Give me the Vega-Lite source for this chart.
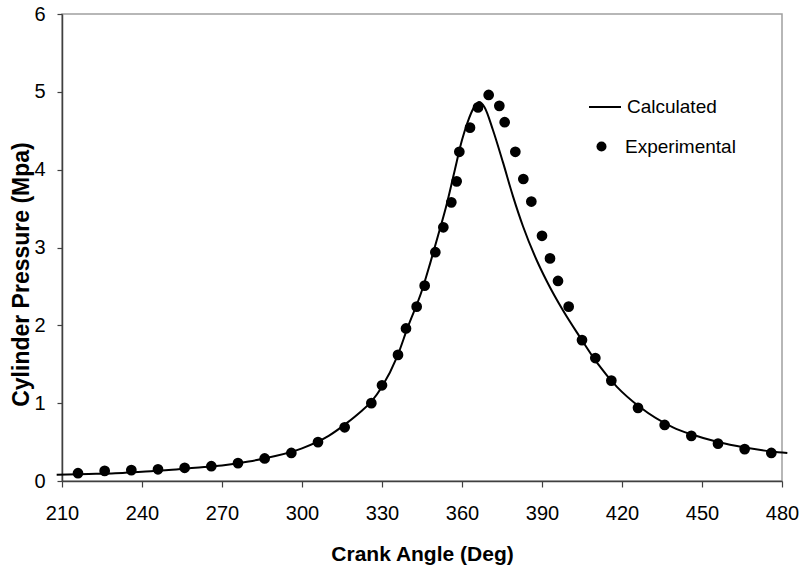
{
  "$schema": "https://vega.github.io/schema/vega-lite/v6.json",
  "width": 720,
  "height": 467,
  "autosize": {"type": "none"},
  "padding": {"left": 62, "top": 14, "right": 20, "bottom": 87},
  "background": "white",
  "config": {
    "view": {"stroke": "#a0a0a0", "strokeWidth": 1.5},
    "font": "Liberation Sans",
    "axis": {
      "grid": false,
      "labelFlush": false,
      "labelOverlap": false,
      "domainColor": "#404040",
      "domainWidth": 1.5,
      "tickColor": "#404040",
      "tickWidth": 1.2,
      "tickSize": 6,
      "labelFont": "Liberation Sans",
      "labelFontSize": 20,
      "labelColor": "black",
      "titleFont": "Liberation Sans",
      "titleFontSize": 21,
      "titleFontWeight": "bold",
      "titleColor": "black"
    },
    "legend": {
      "labelFont": "Liberation Sans",
      "labelFontSize": 19,
      "labelColor": "black",
      "padding": 0
    }
  },
  "datasets": {
    "calc": [
      {"angle": 208, "p": 0.08, "series": "Calculated"}, {"angle": 220, "p": 0.09, "series": "Calculated"},
      {"angle": 230, "p": 0.10, "series": "Calculated"}, {"angle": 240, "p": 0.12, "series": "Calculated"},
      {"angle": 250, "p": 0.14, "series": "Calculated"}, {"angle": 260, "p": 0.17, "series": "Calculated"},
      {"angle": 270, "p": 0.20, "series": "Calculated"}, {"angle": 280, "p": 0.25, "series": "Calculated"},
      {"angle": 290, "p": 0.32, "series": "Calculated"}, {"angle": 300, "p": 0.42, "series": "Calculated"},
      {"angle": 310, "p": 0.58, "series": "Calculated"}, {"angle": 317, "p": 0.75, "series": "Calculated"},
      {"angle": 322, "p": 0.89, "series": "Calculated"}, {"angle": 326, "p": 1.02, "series": "Calculated"},
      {"angle": 330, "p": 1.21, "series": "Calculated"}, {"angle": 335.6, "p": 1.59, "series": "Calculated"},
      {"angle": 339.7, "p": 1.98, "series": "Calculated"}, {"angle": 345, "p": 2.45, "series": "Calculated"},
      {"angle": 348, "p": 2.79, "series": "Calculated"}, {"angle": 351, "p": 3.15, "series": "Calculated"},
      {"angle": 354, "p": 3.52, "series": "Calculated"}, {"angle": 357, "p": 3.95, "series": "Calculated"},
      {"angle": 360, "p": 4.38, "series": "Calculated"}, {"angle": 362, "p": 4.60, "series": "Calculated"},
      {"angle": 364.5, "p": 4.80, "series": "Calculated"}, {"angle": 366.4, "p": 4.87, "series": "Calculated"},
      {"angle": 368.5, "p": 4.80, "series": "Calculated"}, {"angle": 371.6, "p": 4.51, "series": "Calculated"},
      {"angle": 375.4, "p": 4.09, "series": "Calculated"}, {"angle": 379.1, "p": 3.66, "series": "Calculated"},
      {"angle": 382.9, "p": 3.27, "series": "Calculated"}, {"angle": 388.1, "p": 2.83, "series": "Calculated"},
      {"angle": 391.9, "p": 2.56, "series": "Calculated"}, {"angle": 397.9, "p": 2.19, "series": "Calculated"},
      {"angle": 404.2, "p": 1.85, "series": "Calculated"}, {"angle": 410.6, "p": 1.52, "series": "Calculated"},
      {"angle": 418.1, "p": 1.21, "series": "Calculated"}, {"angle": 426.7, "p": 0.95, "series": "Calculated"},
      {"angle": 439.1, "p": 0.69, "series": "Calculated"}, {"angle": 446, "p": 0.60, "series": "Calculated"},
      {"angle": 456, "p": 0.50, "series": "Calculated"}, {"angle": 466, "p": 0.43, "series": "Calculated"},
      {"angle": 476, "p": 0.38, "series": "Calculated"}, {"angle": 482, "p": 0.36, "series": "Calculated"}
    ],
    "exp": [
      {"angle": 216, "p": 0.10, "series": "Experimental"}, {"angle": 226, "p": 0.13, "series": "Experimental"},
      {"angle": 236, "p": 0.14, "series": "Experimental"}, {"angle": 246, "p": 0.15, "series": "Experimental"},
      {"angle": 256, "p": 0.17, "series": "Experimental"}, {"angle": 266, "p": 0.19, "series": "Experimental"},
      {"angle": 276, "p": 0.23, "series": "Experimental"}, {"angle": 286, "p": 0.29, "series": "Experimental"},
      {"angle": 296, "p": 0.36, "series": "Experimental"}, {"angle": 306, "p": 0.50, "series": "Experimental"},
      {"angle": 316, "p": 0.69, "series": "Experimental"}, {"angle": 326, "p": 1.00, "series": "Experimental"},
      {"angle": 330, "p": 1.23, "series": "Experimental"}, {"angle": 336, "p": 1.62, "series": "Experimental"},
      {"angle": 339, "p": 1.96, "series": "Experimental"}, {"angle": 343, "p": 2.24, "series": "Experimental"},
      {"angle": 346, "p": 2.51, "series": "Experimental"}, {"angle": 350, "p": 2.94, "series": "Experimental"},
      {"angle": 353, "p": 3.26, "series": "Experimental"}, {"angle": 356, "p": 3.58, "series": "Experimental"},
      {"angle": 358, "p": 3.85, "series": "Experimental"}, {"angle": 359, "p": 4.23, "series": "Experimental"},
      {"angle": 363, "p": 4.54, "series": "Experimental"}, {"angle": 366, "p": 4.80, "series": "Experimental"},
      {"angle": 370, "p": 4.96, "series": "Experimental"}, {"angle": 374, "p": 4.82, "series": "Experimental"},
      {"angle": 376, "p": 4.61, "series": "Experimental"}, {"angle": 380, "p": 4.23, "series": "Experimental"},
      {"angle": 383, "p": 3.88, "series": "Experimental"}, {"angle": 386, "p": 3.59, "series": "Experimental"},
      {"angle": 390, "p": 3.15, "series": "Experimental"}, {"angle": 393, "p": 2.86, "series": "Experimental"},
      {"angle": 396, "p": 2.57, "series": "Experimental"}, {"angle": 400, "p": 2.24, "series": "Experimental"},
      {"angle": 405, "p": 1.81, "series": "Experimental"}, {"angle": 410, "p": 1.58, "series": "Experimental"},
      {"angle": 416, "p": 1.29, "series": "Experimental"}, {"angle": 426, "p": 0.94, "series": "Experimental"},
      {"angle": 436, "p": 0.72, "series": "Experimental"}, {"angle": 446, "p": 0.58, "series": "Experimental"},
      {"angle": 456, "p": 0.48, "series": "Experimental"}, {"angle": 466, "p": 0.41, "series": "Experimental"},
      {"angle": 476, "p": 0.36, "series": "Experimental"}
    ]
  },
  "encoding": {
    "x": {
      "field": "angle", "type": "quantitative",
      "scale": {"domain": [210, 480], "nice": false, "zero": false},
      "axis": {
        "title": "Crank Angle (Deg)",
        "values": [210, 240, 270, 300, 330, 360, 390, 420, 450, 480],
        "labelPadding": 16,
        "titleBaseline": "alphabetic",
        "titleY": 79
      }
    },
    "y": {
      "field": "p", "type": "quantitative",
      "scale": {"domain": [0, 6], "nice": false},
      "axis": {
        "title": "Cylinder Pressure (Mpa)",
        "values": [0, 1, 2, 3, 4, 5, 6],
        "tickSize": 5,
        "labelPadding": 12,
        "titleFontSize": 23,
        "titleBaseline": "alphabetic",
        "titleX": -34,
        "titleY": 260
      }
    }
  },
  "layer": [
    {
      "data": {"name": "calc"},
      "mark": {"type": "line", "strokeWidth": 2, "clip": false, "interpolate": "monotone"},
      "encoding": {
        "color": {
          "field": "series", "type": "nominal",
          "scale": {"domain": ["Calculated"], "range": ["black"]},
          "legend": {
            "title": null,
            "orient": "none",
            "legendX": 526,
            "legendY": 76,
            "symbolType": "stroke",
            "symbolSize": 1024,
            "symbolStrokeWidth": 2,
            "labelOffset": 5
          }
        }
      }
    },
    {
      "data": {"name": "exp"},
      "mark": {"type": "point", "filled": true, "color": "black", "size": 115, "opacity": 1},
      "encoding": {
        "shape": {
          "field": "series", "type": "nominal",
          "scale": {"domain": ["Experimental"], "range": ["circle"]},
          "legend": {
            "title": null,
            "orient": "none",
            "legendX": 530,
            "legendY": 123,
            "symbolSize": 100,
            "symbolFillColor": "black",
            "symbolStrokeColor": "black",
            "symbolOpacity": 1,
            "labelOffset": 14
          }
        }
      }
    }
  ]
}
